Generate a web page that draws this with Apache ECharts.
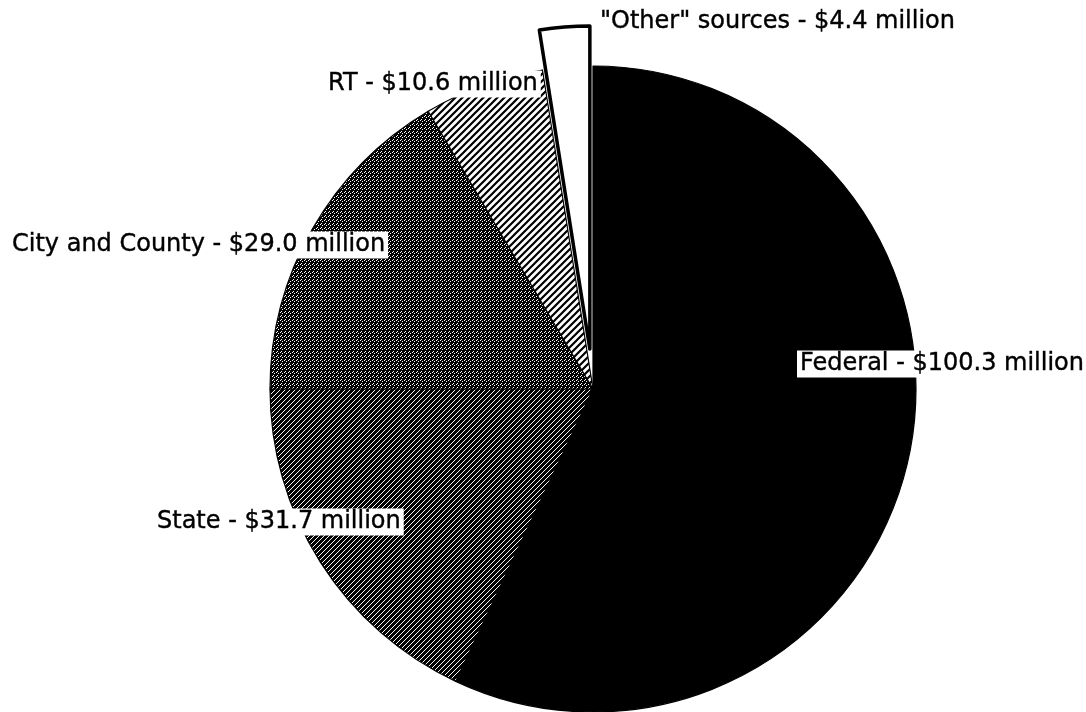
<!DOCTYPE html>
<html>
<head>
<meta charset="utf-8">
<title>Funding sources</title>
<script src="https://cdn.jsdelivr.net/npm/echarts@6/dist/echarts.min.js"></script>
<style>
  html, body { margin: 0; padding: 0; background: #fff; }
  #chart { width: 1086px; height: 712px; }
</style>
</head>
<body>
<div id="chart"></div>
<script>
// Funding by source, millions of dollars (clockwise from 12 o'clock)
const sourceNames = ['Federal', 'State', 'City and County', 'RT', '"Other" sources'];
const sourceValues = [100.3, 31.7, 29.0, 10.6, 4.4];
const fillKinds = ['solid', 'fineHatch', 'stipple', 'wideHatch', 'blank'];
const pulledOut = [false, false, false, false, true];

// where each caption sits (left edge, vertical middle)
const labelAnchors = [[797, 364], [154, 522], [9, 245], [325, 84], [597, 22]];

const pieCenter = [593, 389];
const pieRadius = 323;
const pullDistance = 40;

function makeTile(size, draw) {
  const c = document.createElement('canvas');
  c.width = size; c.height = size;
  const ctx = c.getContext('2d');
  draw(ctx, size);
  return c;
}

function diagonalTile(size, bg, fg, width) {
  return makeTile(size, (ctx, s) => {
    ctx.fillStyle = bg; ctx.fillRect(0, 0, s, s);
    ctx.strokeStyle = fg; ctx.lineWidth = width; ctx.lineCap = 'square';
    ctx.beginPath();
    ctx.moveTo(-s, 2 * s); ctx.lineTo(2 * s, -s);
    ctx.moveTo(-s, s); ctx.lineTo(s, -s);
    ctx.moveTo(0, 2 * s); ctx.lineTo(2 * s, 0);
    ctx.stroke();
  });
}

const stippleTile = makeTile(4, (ctx) => {
  ctx.fillStyle = '#000'; ctx.fillRect(0, 0, 4, 4);
  ctx.fillStyle = '#fff';
  [[0, 0], [2, 1], [1, 3]].forEach(([x, y]) => ctx.fillRect(x, y, 1, 1));
});

const fills = {
  solid: '#000',
  fineHatch: { image: diagonalTile(5, '#000', '#fff', 1), repeat: 'repeat' },
  stipple: { image: stippleTile, repeat: 'repeat' },
  wideHatch: { image: diagonalTile(7, '#fff', '#000', 2.2), repeat: 'repeat' },
  blank: '#fff'
};

// the pulled-out slice is drawn by a second pie whose centre is shifted
// along that slice's middle direction
const total = sourceValues.reduce((a, b) => a + b, 0);
let before = 0;
for (let i = 0; i < sourceValues.length && !pulledOut[i]; i++) before += sourceValues[i];
const pulledIndex = pulledOut.indexOf(true);
const midFrac = (before + sourceValues[pulledIndex] / 2) / total;
const midAngle = midFrac * 2 * Math.PI; // clockwise from 12 o'clock
const shiftedCenter = [
  pieCenter[0] + pullDistance * Math.sin(midAngle),
  pieCenter[1] - pullDistance * Math.cos(midAngle)
];

const hidden = { color: 'rgba(0,0,0,0)', borderWidth: 0 };

const chart = echarts.init(document.getElementById('chart'), null, { renderer: 'canvas' });

chart.setOption({
  backgroundColor: '#fff',
  animation: false,
  series: [{
    type: 'pie',
    center: pieCenter,
    radius: pieRadius,
    startAngle: 90,
    clockwise: true,
    avoidLabelOverlap: false,
    emphasis: { disabled: true },
    itemStyle: { borderColor: '#000', borderWidth: 1.2 },
    label: {
      show: true,
      position: 'outside',
      color: '#000',
      fontFamily: 'DejaVu Sans',
      fontSize: 24,
      backgroundColor: '#fff',
      padding: [2, 3, 1, 3],
      textBorderColor: '#000',
      textBorderWidth: 0.4,
      formatter: (p) => p.name + ' - $' + p.value.toFixed(1) + ' million'
    },
    labelLine: { show: false },
    labelLayout: (params) => {
      const a = labelAnchors[params.dataIndex];
      return { x: a[0], y: a[1], align: 'left', verticalAlign: 'middle' };
    },
    data: sourceNames.map((name, i) => ({
      name: name,
      value: sourceValues[i],
      itemStyle: pulledOut[i] ? hidden : { color: fills[fillKinds[i]] }
    }))
  }, {
    type: 'pie',
    center: shiftedCenter,
    radius: pieRadius,
    startAngle: 90,
    clockwise: true,
    silent: true,
    z: 3,
    emphasis: { disabled: true },
    label: { show: false },
    labelLine: { show: false },
    data: sourceNames.map((name, i) => ({
      name: name,
      value: sourceValues[i],
      itemStyle: pulledOut[i]
        ? { color: fills[fillKinds[i]], borderColor: '#000', borderWidth: 3.5 }
        : hidden
    }))
  }]
});
</script>
</body>
</html>
